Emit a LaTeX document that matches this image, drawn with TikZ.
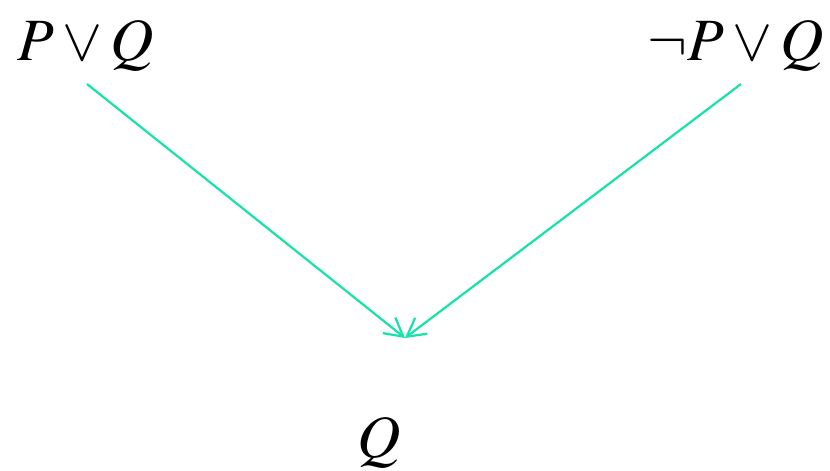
\documentclass[tikz,border=0pt]{standalone}
\usepackage{mathptmx}
\usetikzlibrary{arrows.meta}
\definecolor{linkgreen}{RGB}{22,226,170}
\tikzset{
  formula/.style={anchor=base, inner sep=0pt, font=\fontsize{30}{36}\selectfont},
  infer/.style={linkgreen, line width=1.1pt, -{Straight Barb[length=9pt,width=10pt]}}
}
\begin{document}
\begin{tikzpicture}[x=0.5pt, y=-0.5pt]
	\useasboundingbox (0,0) rectangle (830,471);
	\node[formula] (pq) at (86,60) {$P \vee Q$};
	\node[formula] (npq) at (736,60) {$\neg P \vee Q$};
	\node[formula] (q) at (379,457) {$Q$};
	\coordinate (tip) at ([shift={(26,-119)}]q.base);
	\draw[infer] ([shift={(1,24)}]pq.base) -- (tip);
	\draw[infer] ([shift={(5,24)}]npq.base) -- (tip);
\end{tikzpicture}
\end{document}
